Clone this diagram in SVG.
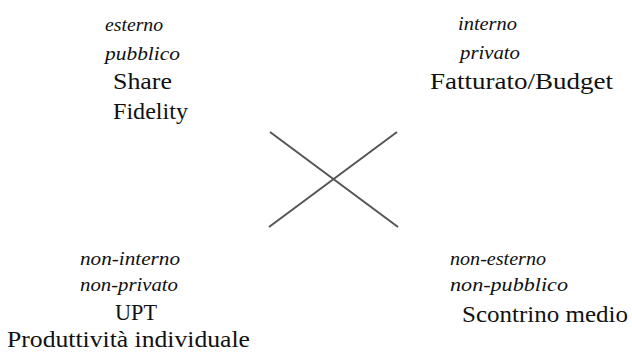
<svg xmlns="http://www.w3.org/2000/svg" width="632" height="352" viewBox="0 0 632 352">
<style>
.it{font-family:"Liberation Serif","Times New Roman",serif;font-style:italic;font-size:19px;fill:#111}
.rm{font-family:"Liberation Serif","Times New Roman",serif;font-size:24px;fill:#111}
.ln{stroke:#555;stroke-width:2;fill:none}
</style>
<rect width="632" height="352" fill="#fff"/>
<g id="connectors">
<line class="ln" x1="270" y1="132" x2="398" y2="227"/>
<line class="ln" x1="397" y1="132" x2="269" y2="227"/>
</g>
<g id="node-top-left">
<text class="it" x="105" y="31" textLength="58" lengthAdjust="spacingAndGlyphs">esterno</text>
<text class="it" x="105" y="60" textLength="75" lengthAdjust="spacingAndGlyphs">pubblico</text>
<text class="rm" x="113" y="89" textLength="59" lengthAdjust="spacingAndGlyphs">Share</text>
<text class="rm" x="113" y="119" textLength="75" lengthAdjust="spacingAndGlyphs">Fidelity</text>
</g>
<g id="node-top-right">
<text class="it" x="458" y="30" textLength="59" lengthAdjust="spacingAndGlyphs">interno</text>
<text class="it" x="460" y="59" textLength="60" lengthAdjust="spacingAndGlyphs">privato</text>
<text class="rm" x="430" y="89" textLength="183" lengthAdjust="spacingAndGlyphs">Fatturato/Budget</text>
</g>
<g id="node-bottom-left">
<text class="it" x="80" y="265" textLength="100" lengthAdjust="spacingAndGlyphs">non-interno</text>
<text class="it" x="80" y="291" textLength="98" lengthAdjust="spacingAndGlyphs">non-privato</text>
<text class="rm" x="115" y="320" textLength="42" lengthAdjust="spacingAndGlyphs">UPT</text>
<text class="rm" x="7" y="347" textLength="243" lengthAdjust="spacingAndGlyphs">Produttività individuale</text>
</g>
<g id="node-bottom-right">
<text class="it" x="450" y="265" textLength="96" lengthAdjust="spacingAndGlyphs">non-esterno</text>
<text class="it" x="450" y="291" textLength="118" lengthAdjust="spacingAndGlyphs">non-pubblico</text>
<text class="rm" x="462" y="322" textLength="166" lengthAdjust="spacingAndGlyphs">Scontrino medio</text>
</g>
</svg>
